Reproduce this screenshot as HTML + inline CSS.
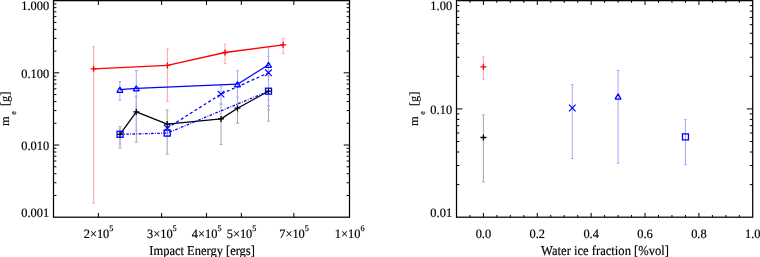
<!DOCTYPE html>
<html><head><meta charset="utf-8"><style>
html,body{margin:0;padding:0;background:#fff;}
body{width:760px;height:257px;overflow:hidden;position:relative;font-family:"Liberation Serif", serif;}
svg{position:absolute;left:0;top:0;}
</style></head><body>
<svg width="760" height="257" viewBox="0 0 760 257" text-rendering="geometricPrecision">
<rect x="53.5" y="0.65" width="296.00" height="216.54999999999998" fill="none" stroke="#000" stroke-width="1.25"/>
<rect x="456.5" y="0.65" width="296.20" height="216.54999999999998" fill="none" stroke="#000" stroke-width="1.25"/>
<line x1="53.50" y1="51.10" x2="56.40" y2="51.10" stroke="#000" stroke-width="1" />
<line x1="349.50" y1="51.10" x2="346.60" y2="51.10" stroke="#000" stroke-width="1" />
<line x1="53.50" y1="38.39" x2="56.40" y2="38.39" stroke="#000" stroke-width="1" />
<line x1="349.50" y1="38.39" x2="346.60" y2="38.39" stroke="#000" stroke-width="1" />
<line x1="53.50" y1="29.37" x2="56.40" y2="29.37" stroke="#000" stroke-width="1" />
<line x1="349.50" y1="29.37" x2="346.60" y2="29.37" stroke="#000" stroke-width="1" />
<line x1="53.50" y1="22.38" x2="56.40" y2="22.38" stroke="#000" stroke-width="1" />
<line x1="349.50" y1="22.38" x2="346.60" y2="22.38" stroke="#000" stroke-width="1" />
<line x1="53.50" y1="16.66" x2="56.40" y2="16.66" stroke="#000" stroke-width="1" />
<line x1="349.50" y1="16.66" x2="346.60" y2="16.66" stroke="#000" stroke-width="1" />
<line x1="53.50" y1="11.83" x2="56.40" y2="11.83" stroke="#000" stroke-width="1" />
<line x1="349.50" y1="11.83" x2="346.60" y2="11.83" stroke="#000" stroke-width="1" />
<line x1="53.50" y1="7.65" x2="56.40" y2="7.65" stroke="#000" stroke-width="1" />
<line x1="349.50" y1="7.65" x2="346.60" y2="7.65" stroke="#000" stroke-width="1" />
<line x1="53.50" y1="3.95" x2="56.40" y2="3.95" stroke="#000" stroke-width="1" />
<line x1="349.50" y1="3.95" x2="346.60" y2="3.95" stroke="#000" stroke-width="1" />
<line x1="53.50" y1="72.83" x2="59.30" y2="72.83" stroke="#000" stroke-width="1" />
<line x1="349.50" y1="72.83" x2="343.70" y2="72.83" stroke="#000" stroke-width="1" />
<line x1="53.50" y1="123.29" x2="56.40" y2="123.29" stroke="#000" stroke-width="1" />
<line x1="349.50" y1="123.29" x2="346.60" y2="123.29" stroke="#000" stroke-width="1" />
<line x1="53.50" y1="110.58" x2="56.40" y2="110.58" stroke="#000" stroke-width="1" />
<line x1="349.50" y1="110.58" x2="346.60" y2="110.58" stroke="#000" stroke-width="1" />
<line x1="53.50" y1="101.56" x2="56.40" y2="101.56" stroke="#000" stroke-width="1" />
<line x1="349.50" y1="101.56" x2="346.60" y2="101.56" stroke="#000" stroke-width="1" />
<line x1="53.50" y1="94.56" x2="56.40" y2="94.56" stroke="#000" stroke-width="1" />
<line x1="349.50" y1="94.56" x2="346.60" y2="94.56" stroke="#000" stroke-width="1" />
<line x1="53.50" y1="88.85" x2="56.40" y2="88.85" stroke="#000" stroke-width="1" />
<line x1="349.50" y1="88.85" x2="346.60" y2="88.85" stroke="#000" stroke-width="1" />
<line x1="53.50" y1="84.01" x2="56.40" y2="84.01" stroke="#000" stroke-width="1" />
<line x1="349.50" y1="84.01" x2="346.60" y2="84.01" stroke="#000" stroke-width="1" />
<line x1="53.50" y1="79.83" x2="56.40" y2="79.83" stroke="#000" stroke-width="1" />
<line x1="349.50" y1="79.83" x2="346.60" y2="79.83" stroke="#000" stroke-width="1" />
<line x1="53.50" y1="76.14" x2="56.40" y2="76.14" stroke="#000" stroke-width="1" />
<line x1="349.50" y1="76.14" x2="346.60" y2="76.14" stroke="#000" stroke-width="1" />
<line x1="53.50" y1="145.02" x2="59.30" y2="145.02" stroke="#000" stroke-width="1" />
<line x1="349.50" y1="145.02" x2="343.70" y2="145.02" stroke="#000" stroke-width="1" />
<line x1="53.50" y1="195.47" x2="56.40" y2="195.47" stroke="#000" stroke-width="1" />
<line x1="349.50" y1="195.47" x2="346.60" y2="195.47" stroke="#000" stroke-width="1" />
<line x1="53.50" y1="182.76" x2="56.40" y2="182.76" stroke="#000" stroke-width="1" />
<line x1="349.50" y1="182.76" x2="346.60" y2="182.76" stroke="#000" stroke-width="1" />
<line x1="53.50" y1="173.74" x2="56.40" y2="173.74" stroke="#000" stroke-width="1" />
<line x1="349.50" y1="173.74" x2="346.60" y2="173.74" stroke="#000" stroke-width="1" />
<line x1="53.50" y1="166.75" x2="56.40" y2="166.75" stroke="#000" stroke-width="1" />
<line x1="349.50" y1="166.75" x2="346.60" y2="166.75" stroke="#000" stroke-width="1" />
<line x1="53.50" y1="161.03" x2="56.40" y2="161.03" stroke="#000" stroke-width="1" />
<line x1="349.50" y1="161.03" x2="346.60" y2="161.03" stroke="#000" stroke-width="1" />
<line x1="53.50" y1="156.20" x2="56.40" y2="156.20" stroke="#000" stroke-width="1" />
<line x1="349.50" y1="156.20" x2="346.60" y2="156.20" stroke="#000" stroke-width="1" />
<line x1="53.50" y1="152.01" x2="56.40" y2="152.01" stroke="#000" stroke-width="1" />
<line x1="349.50" y1="152.01" x2="346.60" y2="152.01" stroke="#000" stroke-width="1" />
<line x1="53.50" y1="148.32" x2="56.40" y2="148.32" stroke="#000" stroke-width="1" />
<line x1="349.50" y1="148.32" x2="346.60" y2="148.32" stroke="#000" stroke-width="1" />
<line x1="98.36" y1="217.20" x2="98.36" y2="212.85" stroke="#000" stroke-width="1" />
<line x1="98.36" y1="0.65" x2="98.36" y2="5.00" stroke="#000" stroke-width="1" />
<line x1="161.63" y1="217.20" x2="161.63" y2="212.85" stroke="#000" stroke-width="1" />
<line x1="161.63" y1="0.65" x2="161.63" y2="5.00" stroke="#000" stroke-width="1" />
<line x1="206.52" y1="217.20" x2="206.52" y2="212.85" stroke="#000" stroke-width="1" />
<line x1="206.52" y1="0.65" x2="206.52" y2="5.00" stroke="#000" stroke-width="1" />
<line x1="241.34" y1="217.20" x2="241.34" y2="212.85" stroke="#000" stroke-width="1" />
<line x1="241.34" y1="0.65" x2="241.34" y2="5.00" stroke="#000" stroke-width="1" />
<line x1="293.84" y1="217.20" x2="293.84" y2="212.85" stroke="#000" stroke-width="1" />
<line x1="293.84" y1="0.65" x2="293.84" y2="5.00" stroke="#000" stroke-width="1" />
<line x1="456.50" y1="76.33" x2="459.40" y2="76.33" stroke="#000" stroke-width="1" />
<line x1="752.70" y1="76.33" x2="749.80" y2="76.33" stroke="#000" stroke-width="1" />
<line x1="456.50" y1="57.26" x2="459.40" y2="57.26" stroke="#000" stroke-width="1" />
<line x1="752.70" y1="57.26" x2="749.80" y2="57.26" stroke="#000" stroke-width="1" />
<line x1="456.50" y1="43.74" x2="459.40" y2="43.74" stroke="#000" stroke-width="1" />
<line x1="752.70" y1="43.74" x2="749.80" y2="43.74" stroke="#000" stroke-width="1" />
<line x1="456.50" y1="33.24" x2="459.40" y2="33.24" stroke="#000" stroke-width="1" />
<line x1="752.70" y1="33.24" x2="749.80" y2="33.24" stroke="#000" stroke-width="1" />
<line x1="456.50" y1="24.67" x2="459.40" y2="24.67" stroke="#000" stroke-width="1" />
<line x1="752.70" y1="24.67" x2="749.80" y2="24.67" stroke="#000" stroke-width="1" />
<line x1="456.50" y1="17.42" x2="459.40" y2="17.42" stroke="#000" stroke-width="1" />
<line x1="752.70" y1="17.42" x2="749.80" y2="17.42" stroke="#000" stroke-width="1" />
<line x1="456.50" y1="11.14" x2="459.40" y2="11.14" stroke="#000" stroke-width="1" />
<line x1="752.70" y1="11.14" x2="749.80" y2="11.14" stroke="#000" stroke-width="1" />
<line x1="456.50" y1="5.60" x2="459.40" y2="5.60" stroke="#000" stroke-width="1" />
<line x1="752.70" y1="5.60" x2="749.80" y2="5.60" stroke="#000" stroke-width="1" />
<line x1="456.50" y1="108.92" x2="462.30" y2="108.92" stroke="#000" stroke-width="1" />
<line x1="752.70" y1="108.92" x2="746.90" y2="108.92" stroke="#000" stroke-width="1" />
<line x1="456.50" y1="184.61" x2="459.40" y2="184.61" stroke="#000" stroke-width="1" />
<line x1="752.70" y1="184.61" x2="749.80" y2="184.61" stroke="#000" stroke-width="1" />
<line x1="456.50" y1="165.54" x2="459.40" y2="165.54" stroke="#000" stroke-width="1" />
<line x1="752.70" y1="165.54" x2="749.80" y2="165.54" stroke="#000" stroke-width="1" />
<line x1="456.50" y1="152.01" x2="459.40" y2="152.01" stroke="#000" stroke-width="1" />
<line x1="752.70" y1="152.01" x2="749.80" y2="152.01" stroke="#000" stroke-width="1" />
<line x1="456.50" y1="141.52" x2="459.40" y2="141.52" stroke="#000" stroke-width="1" />
<line x1="752.70" y1="141.52" x2="749.80" y2="141.52" stroke="#000" stroke-width="1" />
<line x1="456.50" y1="132.95" x2="459.40" y2="132.95" stroke="#000" stroke-width="1" />
<line x1="752.70" y1="132.95" x2="749.80" y2="132.95" stroke="#000" stroke-width="1" />
<line x1="456.50" y1="125.70" x2="459.40" y2="125.70" stroke="#000" stroke-width="1" />
<line x1="752.70" y1="125.70" x2="749.80" y2="125.70" stroke="#000" stroke-width="1" />
<line x1="456.50" y1="119.42" x2="459.40" y2="119.42" stroke="#000" stroke-width="1" />
<line x1="752.70" y1="119.42" x2="749.80" y2="119.42" stroke="#000" stroke-width="1" />
<line x1="456.50" y1="113.88" x2="459.40" y2="113.88" stroke="#000" stroke-width="1" />
<line x1="752.70" y1="113.88" x2="749.80" y2="113.88" stroke="#000" stroke-width="1" />
<line x1="469.93" y1="217.20" x2="469.93" y2="215.00" stroke="#000" stroke-width="1" />
<line x1="469.93" y1="0.65" x2="469.93" y2="2.85" stroke="#000" stroke-width="1" />
<line x1="483.40" y1="217.20" x2="483.40" y2="212.85" stroke="#000" stroke-width="1" />
<line x1="483.40" y1="0.65" x2="483.40" y2="5.00" stroke="#000" stroke-width="1" />
<line x1="496.87" y1="217.20" x2="496.87" y2="215.00" stroke="#000" stroke-width="1" />
<line x1="496.87" y1="0.65" x2="496.87" y2="2.85" stroke="#000" stroke-width="1" />
<line x1="510.34" y1="217.20" x2="510.34" y2="215.00" stroke="#000" stroke-width="1" />
<line x1="510.34" y1="0.65" x2="510.34" y2="2.85" stroke="#000" stroke-width="1" />
<line x1="523.81" y1="217.20" x2="523.81" y2="215.00" stroke="#000" stroke-width="1" />
<line x1="523.81" y1="0.65" x2="523.81" y2="2.85" stroke="#000" stroke-width="1" />
<line x1="537.28" y1="217.20" x2="537.28" y2="212.85" stroke="#000" stroke-width="1" />
<line x1="537.28" y1="0.65" x2="537.28" y2="5.00" stroke="#000" stroke-width="1" />
<line x1="550.75" y1="217.20" x2="550.75" y2="215.00" stroke="#000" stroke-width="1" />
<line x1="550.75" y1="0.65" x2="550.75" y2="2.85" stroke="#000" stroke-width="1" />
<line x1="564.22" y1="217.20" x2="564.22" y2="215.00" stroke="#000" stroke-width="1" />
<line x1="564.22" y1="0.65" x2="564.22" y2="2.85" stroke="#000" stroke-width="1" />
<line x1="577.69" y1="217.20" x2="577.69" y2="215.00" stroke="#000" stroke-width="1" />
<line x1="577.69" y1="0.65" x2="577.69" y2="2.85" stroke="#000" stroke-width="1" />
<line x1="591.16" y1="217.20" x2="591.16" y2="212.85" stroke="#000" stroke-width="1" />
<line x1="591.16" y1="0.65" x2="591.16" y2="5.00" stroke="#000" stroke-width="1" />
<line x1="604.63" y1="217.20" x2="604.63" y2="215.00" stroke="#000" stroke-width="1" />
<line x1="604.63" y1="0.65" x2="604.63" y2="2.85" stroke="#000" stroke-width="1" />
<line x1="618.10" y1="217.20" x2="618.10" y2="215.00" stroke="#000" stroke-width="1" />
<line x1="618.10" y1="0.65" x2="618.10" y2="2.85" stroke="#000" stroke-width="1" />
<line x1="631.57" y1="217.20" x2="631.57" y2="215.00" stroke="#000" stroke-width="1" />
<line x1="631.57" y1="0.65" x2="631.57" y2="2.85" stroke="#000" stroke-width="1" />
<line x1="645.04" y1="217.20" x2="645.04" y2="212.85" stroke="#000" stroke-width="1" />
<line x1="645.04" y1="0.65" x2="645.04" y2="5.00" stroke="#000" stroke-width="1" />
<line x1="658.51" y1="217.20" x2="658.51" y2="215.00" stroke="#000" stroke-width="1" />
<line x1="658.51" y1="0.65" x2="658.51" y2="2.85" stroke="#000" stroke-width="1" />
<line x1="671.98" y1="217.20" x2="671.98" y2="215.00" stroke="#000" stroke-width="1" />
<line x1="671.98" y1="0.65" x2="671.98" y2="2.85" stroke="#000" stroke-width="1" />
<line x1="685.45" y1="217.20" x2="685.45" y2="215.00" stroke="#000" stroke-width="1" />
<line x1="685.45" y1="0.65" x2="685.45" y2="2.85" stroke="#000" stroke-width="1" />
<line x1="698.92" y1="217.20" x2="698.92" y2="212.85" stroke="#000" stroke-width="1" />
<line x1="698.92" y1="0.65" x2="698.92" y2="5.00" stroke="#000" stroke-width="1" />
<line x1="712.39" y1="217.20" x2="712.39" y2="215.00" stroke="#000" stroke-width="1" />
<line x1="712.39" y1="0.65" x2="712.39" y2="2.85" stroke="#000" stroke-width="1" />
<line x1="725.86" y1="217.20" x2="725.86" y2="215.00" stroke="#000" stroke-width="1" />
<line x1="725.86" y1="0.65" x2="725.86" y2="2.85" stroke="#000" stroke-width="1" />
<line x1="739.33" y1="217.20" x2="739.33" y2="215.00" stroke="#000" stroke-width="1" />
<line x1="739.33" y1="0.65" x2="739.33" y2="2.85" stroke="#000" stroke-width="1" />
<g font-family='"Liberation Serif", serif' fill="#000" stroke="#000" stroke-width="0.18" style="filter:grayscale(1)">
<text transform="translate(49.20,10.40) scale(0.97,1)" font-size="12.8" text-anchor="end" >1.000</text>
<text transform="translate(49.20,78.23) scale(0.97,1)" font-size="12.8" text-anchor="end" >0.100</text>
<text transform="translate(49.20,150.42) scale(0.97,1)" font-size="12.8" text-anchor="end" >0.010</text>
<text transform="translate(49.20,216.90) scale(0.97,1)" font-size="12.8" text-anchor="end" >0.001</text>
<text transform="translate(452.10,10.40) scale(0.97,1)" font-size="12.8" text-anchor="end" >1.00</text>
<text transform="translate(452.10,114.33) scale(0.97,1)" font-size="12.8" text-anchor="end" >0.10</text>
<text transform="translate(452.10,216.90) scale(0.97,1)" font-size="12.8" text-anchor="end" >0.01</text>
<text transform="translate(98.56,237.7) scale(0.97,1)" font-size="12.8" text-anchor="middle">2&#215;10<tspan font-size="8.5" dy="-6.8">5</tspan></text>
<text transform="translate(161.83,237.7) scale(0.97,1)" font-size="12.8" text-anchor="middle">3&#215;10<tspan font-size="8.5" dy="-6.8">5</tspan></text>
<text transform="translate(206.72,237.7) scale(0.97,1)" font-size="12.8" text-anchor="middle">4&#215;10<tspan font-size="8.5" dy="-6.8">5</tspan></text>
<text transform="translate(241.54,237.7) scale(0.97,1)" font-size="12.8" text-anchor="middle">5&#215;10<tspan font-size="8.5" dy="-6.8">5</tspan></text>
<text transform="translate(294.04,237.7) scale(0.97,1)" font-size="12.8" text-anchor="middle">7&#215;10<tspan font-size="8.5" dy="-6.8">5</tspan></text>
<text transform="translate(349.70,237.7) scale(0.97,1)" font-size="12.8" text-anchor="middle">1&#215;10<tspan font-size="8.5" dy="-6.8">6</tspan></text>
<text transform="translate(483.40,237.70) scale(0.97,1)" font-size="12.8" text-anchor="middle" >0.0</text>
<text transform="translate(537.28,237.70) scale(0.97,1)" font-size="12.8" text-anchor="middle" >0.2</text>
<text transform="translate(591.16,237.70) scale(0.97,1)" font-size="12.8" text-anchor="middle" >0.4</text>
<text transform="translate(645.04,237.70) scale(0.97,1)" font-size="12.8" text-anchor="middle" >0.6</text>
<text transform="translate(698.92,237.70) scale(0.97,1)" font-size="12.8" text-anchor="middle" >0.8</text>
<text transform="translate(752.80,237.70) scale(0.97,1)" font-size="12.8" text-anchor="middle" >1.0</text>
<text transform="translate(149.30,254.90) scale(0.918,1)" font-size="13.6" text-anchor="start" >Impact Energy [ergs]</text>
<text transform="translate(541.10,254.90) scale(0.926,1)" font-size="13.6" text-anchor="start" >Water ice fraction [%vol]</text>
<g transform="translate(9.2,125.9) rotate(-90)"><text x="0" y="0" font-size="12.3">m</text><text x="11.2" y="7.2" font-size="8">e</text><text x="19.9" y="0" font-size="12.3">[g]</text></g>
<g transform="translate(418.2,125.9) rotate(-90)"><text x="0" y="0" font-size="12.3">m</text><text x="11.2" y="7.2" font-size="8">e</text><text x="19.9" y="0" font-size="12.3">[g]</text></g>
</g>
<g stroke="#aaaaaa" stroke-width="1.05" fill="none"><path d="M120.00 126.50V148.00M118.60 126.50H121.40M118.60 148.00H121.40"/></g>
<g stroke="#aaaaaa" stroke-width="1.05" fill="none"><path d="M136.30 96.30V142.30M134.90 96.30H137.70M134.90 142.30H137.70"/></g>
<g stroke="#aaaaaa" stroke-width="1.05" fill="none"><path d="M167.20 109.90V154.10M165.80 109.90H168.60M165.80 154.10H168.60"/></g>
<g stroke="#aaaaaa" stroke-width="1.05" fill="none"><path d="M221.00 104.00V144.40M219.60 104.00H222.40M219.60 144.40H222.40"/></g>
<g stroke="#aaaaaa" stroke-width="1.05" fill="none"><path d="M237.50 97.30V123.10M236.10 97.30H238.90M236.10 123.10H238.90"/></g>
<g stroke="#aaaaaa" stroke-width="1.05" fill="none"><path d="M268.50 106.00V121.20M267.10 106.00H269.90M267.10 121.20H269.90"/></g>
<g stroke="#ffa8a8" stroke-width="1.05" fill="none"><path d="M93.60 46.70V203.00M92.20 46.70H95.00M92.20 203.00H95.00"/></g>
<g stroke="#ffa8a8" stroke-width="1.05" fill="none"><path d="M167.40 48.90V101.40M166.00 48.90H168.80M166.00 101.40H168.80"/></g>
<g stroke="#ffa8a8" stroke-width="1.05" fill="none"><path d="M225.00 44.20V63.40M223.60 44.20H226.40M223.60 63.40H226.40"/></g>
<g stroke="#ffa8a8" stroke-width="1.05" fill="none"><path d="M283.20 38.20V53.40M281.80 38.20H284.60M281.80 53.40H284.60"/></g>
<g stroke="#acacff" stroke-width="1.05" fill="none"><path d="M119.90 81.40V100.40M118.50 81.40H121.30M118.50 100.40H121.30"/></g>
<g stroke="#acacff" stroke-width="1.05" fill="none"><path d="M136.30 70.60V130.20M134.90 70.60H137.70M134.90 130.20H137.70"/></g>
<g stroke="#acacff" stroke-width="1.05" fill="none"><path d="M237.50 70.80V104.00M236.10 70.80H238.90M236.10 104.00H238.90"/></g>
<g stroke="#acacff" stroke-width="1.05" fill="none"><path d="M268.50 46.40V100.00M267.10 46.40H269.90M267.10 100.00H269.90"/></g>
<g stroke="#acacff" stroke-width="1.05" fill="none"><path d="M167.20 125.00V131.00M165.80 125.00H168.60M165.80 131.00H168.60"/></g>
<g stroke="#acacff" stroke-width="1.05" fill="none"><path d="M221.00 86.00V104.00M219.60 86.00H222.40M219.60 104.00H222.40"/></g>
<g stroke="#acacff" stroke-width="1.05" fill="none"><path d="M268.50 56.20V106.00M267.10 56.20H269.90M267.10 106.00H269.90"/></g>
<g stroke="#acacff" stroke-width="1.05" fill="none"><path d="M120.10 126.50V144.00M118.70 126.50H121.50M118.70 144.00H121.50"/></g>
<g stroke="#acacff" stroke-width="1.05" fill="none"><path d="M167.20 130.00V136.00M165.80 130.00H168.60M165.80 136.00H168.60"/></g>
<g stroke="#acacff" stroke-width="1.05" fill="none"><path d="M268.50 76.00V109.60M267.10 76.00H269.90M267.10 109.60H269.90"/></g>
<g stroke="#ffa8a8" stroke-width="1.05" fill="none"><path d="M483.40 57.00V79.20M482.00 57.00H484.80M482.00 79.20H484.80"/></g>
<g stroke="#aaaaaa" stroke-width="1.05" fill="none"><path d="M483.40 115.00V181.90M482.00 115.00H484.80M482.00 181.90H484.80"/></g>
<g stroke="#acacff" stroke-width="1.05" fill="none"><path d="M572.30 84.40V158.50M570.90 84.40H573.70M570.90 158.50H573.70"/></g>
<g stroke="#acacff" stroke-width="1.05" fill="none"><path d="M618.10 70.40V163.20M616.70 70.40H619.50M616.70 163.20H619.50"/></g>
<g stroke="#acacff" stroke-width="1.05" fill="none"><path d="M685.45 119.40V164.70M684.05 119.40H686.85M684.05 164.70H686.85"/></g>
<polyline points="93.60,68.80 167.40,65.40 225.00,52.50 283.20,44.80" fill="none" stroke="#ff0000" stroke-width="1.3" stroke-linejoin="round" />
<polyline points="119.90,89.70 136.30,88.30 237.50,84.20 268.50,64.80" fill="none" stroke="#0000ff" stroke-width="1.3" stroke-linejoin="round" />
<polyline points="120.00,134.40 136.30,111.80 167.20,124.10 221.00,118.90 237.50,108.20 268.50,91.20" fill="none" stroke="#000000" stroke-width="1.3" stroke-linejoin="round" />
<polyline points="167.20,128.10 221.00,94.10 268.50,72.80" fill="none" stroke="#0000ff" stroke-width="1.3" stroke-linejoin="round" stroke-dasharray="2.9 2.5"/>
<polyline points="120.10,134.30 167.20,133.10 268.50,91.20" fill="none" stroke="#0000ff" stroke-width="1.3" stroke-linejoin="round" stroke-dasharray="2.6 1.4 0.8 1.4"/>
<path d="M90.60 68.80H96.60M93.60 65.80V71.80" stroke="#ff0000" stroke-width="1.3" fill="none"/>
<path d="M164.40 65.40H170.40M167.40 62.40V68.40" stroke="#ff0000" stroke-width="1.3" fill="none"/>
<path d="M222.00 52.50H228.00M225.00 49.50V55.50" stroke="#ff0000" stroke-width="1.3" fill="none"/>
<path d="M280.20 44.80H286.20M283.20 41.80V47.80" stroke="#ff0000" stroke-width="1.3" fill="none"/>
<path d="M117.00 134.40H123.00M120.00 131.40V137.40" stroke="#000000" stroke-width="1.3" fill="none"/>
<path d="M133.30 111.80H139.30M136.30 108.80V114.80" stroke="#000000" stroke-width="1.3" fill="none"/>
<path d="M164.20 124.10H170.20M167.20 121.10V127.10" stroke="#000000" stroke-width="1.3" fill="none"/>
<path d="M218.00 118.90H224.00M221.00 115.90V121.90" stroke="#000000" stroke-width="1.3" fill="none"/>
<path d="M234.50 108.20H240.50M237.50 105.20V111.20" stroke="#000000" stroke-width="1.3" fill="none"/>
<path d="M265.50 91.20H271.50M268.50 88.20V94.20" stroke="#000000" stroke-width="1.3" fill="none"/>
<path d="M119.90 87.10L122.89 92.30L116.91 92.30Z" stroke="#0000ff" stroke-width="1.25" fill="none" stroke-linejoin="bevel"/>
<path d="M136.30 85.70L139.29 90.90L133.31 90.90Z" stroke="#0000ff" stroke-width="1.25" fill="none" stroke-linejoin="bevel"/>
<path d="M237.50 81.60L240.49 86.80L234.51 86.80Z" stroke="#0000ff" stroke-width="1.25" fill="none" stroke-linejoin="bevel"/>
<path d="M268.50 62.20L271.49 67.40L265.51 67.40Z" stroke="#0000ff" stroke-width="1.25" fill="none" stroke-linejoin="bevel"/>
<path d="M163.90 124.80L170.50 131.40M163.90 131.40L170.50 124.80" stroke="#0000ff" stroke-width="1.15" fill="none"/>
<path d="M217.70 90.80L224.30 97.40M217.70 97.40L224.30 90.80" stroke="#0000ff" stroke-width="1.15" fill="none"/>
<path d="M265.20 69.50L271.80 76.10M265.20 76.10L271.80 69.50" stroke="#0000ff" stroke-width="1.15" fill="none"/>
<rect x="117.10" y="131.30" width="6.00" height="6.00" stroke="#0000ff" stroke-width="1.3" fill="none"/>
<rect x="164.20" y="130.10" width="6.00" height="6.00" stroke="#0000ff" stroke-width="1.3" fill="none"/>
<rect x="265.50" y="88.20" width="6.00" height="6.00" stroke="#0000ff" stroke-width="1.3" fill="none"/>
<path d="M480.40 66.80H486.40M483.40 63.80V69.80" stroke="#ff0000" stroke-width="1.3" fill="none"/>
<path d="M480.40 137.50H486.40M483.40 134.50V140.50" stroke="#000000" stroke-width="1.3" fill="none"/>
<path d="M569.00 104.70L575.60 111.30M569.00 111.30L575.60 104.70" stroke="#0000ff" stroke-width="1.15" fill="none"/>
<path d="M618.10 93.90L621.09 99.10L615.11 99.10Z" stroke="#0000ff" stroke-width="1.25" fill="none" stroke-linejoin="bevel"/>
<rect x="682.45" y="133.90" width="6.00" height="6.00" stroke="#0000ff" stroke-width="1.3" fill="none"/>
</svg>
</body></html>
